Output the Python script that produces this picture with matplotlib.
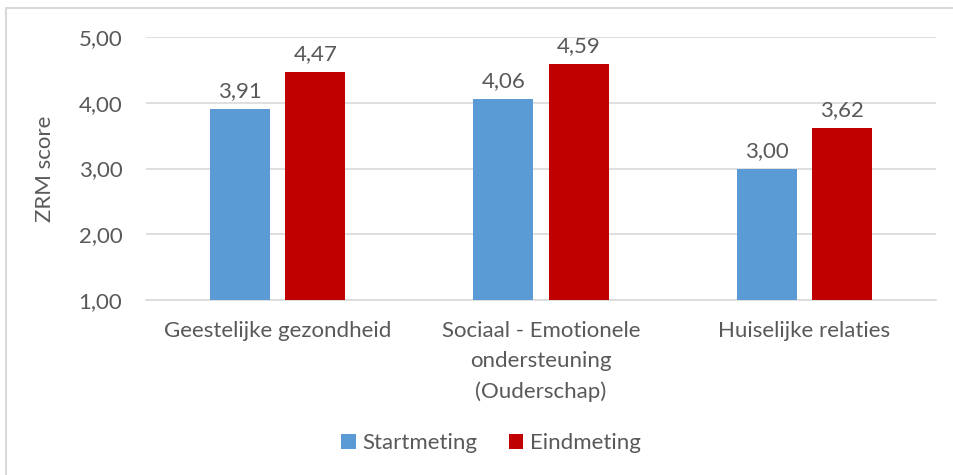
import numpy as np
import matplotlib.pyplot as plt
from matplotlib.patches import Rectangle

plt.rcParams['font.family'] = ['Lato', 'DejaVu Sans']

# data
categories = ['Geestelijke gezondheid',
              'Sociaal - Emotionele\nondersteuning\n(Ouderschap)',
              'Huiselijke relaties']
startmeting = [3.91, 4.06, 3.00]
eindmeting = [4.47, 4.59, 3.62]
y_ticks = [1, 2, 3, 4, 5]

blue = '#5b9bd5'
red = '#c00000'
grey = '#595959'
fs = 16

fig = plt.figure(figsize=(9.54, 4.75), dpi=100)
ax = fig.add_axes([146 / 954, 1 - 300 / 475, 790 / 954, 263 / 475])

x = np.arange(len(categories))
w = 0.228
off = 0.143
b1 = ax.bar(x - off, startmeting, w, bottom=0, color=blue, label='Startmeting', zorder=3)
b2 = ax.bar(x + off, eindmeting, w, bottom=0, color=red, label='Eindmeting', zorder=3)

for bars, vals in [(b1, startmeting), (b2, eindmeting)]:
    for b, v in zip(bars, vals):
        ax.annotate(('%.2f' % v).replace('.', ','), (b.get_x() + b.get_width() / 2, v),
                    xytext=(0, 5.5), textcoords='offset points', ha='center', va='bottom',
                    fontsize=fs, color=grey)

ax.set_xlim(-0.5, 2.5)
ax.set_ylim(1, 5)
ax.set_yticks(y_ticks)
ax.set_yticklabels([('%.2f' % t).replace('.', ',') for t in y_ticks])
ax.set_xticks(x)
ax.set_xticklabels(categories, linespacing=1.62)
ax.tick_params(axis='y', length=0, pad=17, labelsize=fs, labelcolor=grey)
ax.tick_params(axis='x', length=0, pad=15, labelsize=fs, labelcolor=grey)
ax.grid(axis='y', color='#d9d9d9', linewidth=1.2, zorder=0)
for s in ['top', 'right', 'left']:
    ax.spines[s].set_visible(False)
ax.spines['bottom'].set_color('#d9d9d9')
ax.spines['bottom'].set_linewidth(1.2)
ax.set_ylabel('ZRM score', fontsize=fs, color=grey, labelpad=17)

fig.legend(handles=[b1, b2], loc='center', bbox_to_anchor=(491 / 954, 1 - 443 / 475),
           ncol=2, frameon=False, fontsize=fs, labelcolor=grey,
           handlelength=0.65, handleheight=0.65, handletextpad=0.3, columnspacing=1.4)

# outer chart border (cut off at right and bottom)
fig.patches.append(Rectangle((6 / 954, -0.1), 1.2, 1.1 - 8 / 475, transform=fig.transFigure,
                             fill=False, edgecolor='#d9d9d9', linewidth=1.5))

fig.savefig('out.png', dpi=100)
